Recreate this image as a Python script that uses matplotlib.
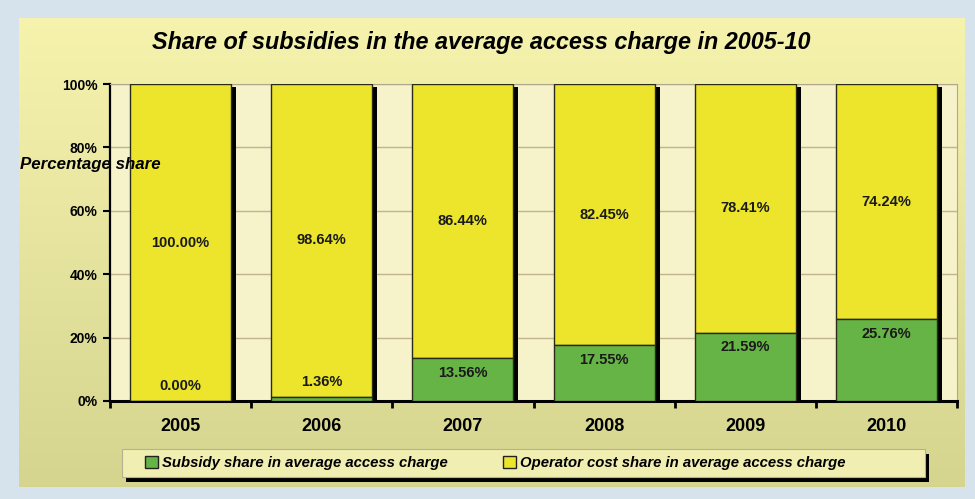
import matplotlib.pyplot as plt
import matplotlib.patheffects as pe
from matplotlib.patches import Rectangle, Patch
import numpy as np

plt.rcParams['font.family'] = ['Liberation Sans', 'DejaVu Sans']

years = ['2005', '2006', '2007', '2008', '2009', '2010']
subsidy = [0.00, 1.36, 13.56, 17.55, 21.59, 25.76]
operator = [100.00, 98.64, 86.44, 82.45, 78.41, 74.24]
yticks = [0, 20, 40, 60, 80, 100]

green = '#66b445'
yellow = '#ece52c'
cream = '#f6f2c9'

W, H = 975, 499
fig = plt.figure(figsize=(W / 100, H / 100), dpi=100)
fig.patch.set_facecolor('#d7e3ec')

# gradient panel behind everything
bg = fig.add_axes([19 / W, 1 - 487 / H, (965 - 19) / W, (487 - 18) / H], zorder=0)
top = np.array([0.965, 0.952, 0.68])
bot = np.array([0.835, 0.835, 0.56])
t = np.linspace(0, 1, 200)[:, None, None]
grad = top * (1 - t) + bot * t
grad = np.repeat(grad, 2, axis=1)
bg.imshow(grad, aspect='auto', extent=[0, 1, 0, 1])
bg.set_axis_off()

ax = fig.add_axes([110 / W, 1 - 401 / H, (957 - 110) / W, (401 - 84) / H], zorder=2)
ax.set_facecolor(cream)

x = np.arange(len(years))
width = 0.716
shadow = [pe.SimplePatchShadow(offset=(3.6, -2.2), shadow_rgbFace='black', alpha=1.0), pe.Normal()]
# yellow drawn underneath so the green tops hide its shadow
b2 = ax.bar(x, operator, width, bottom=subsidy, color=yellow, edgecolor='#2a2a1a',
            linewidth=1.0, zorder=3, path_effects=shadow)
b1 = ax.bar(x, subsidy, width, color=green, edgecolor='#2a2a1a', linewidth=1.0,
            zorder=4, path_effects=shadow)

lab = dict(ha='center', va='center', fontsize=10.5, fontweight='bold', color='#1a1a1a', zorder=5)
for xi, s, o in zip(x, subsidy, operator):
    ys = s - 4.6 if s > 10 else s + 4.6
    ax.text(xi, ys, f'{s:.2f}%', **lab)
    ax.text(xi, s + o / 2, f'{o:.2f}%', **lab)

ax.set_xlim(-0.5, len(years) - 0.5)
ax.set_ylim(0, 100)
ax.set_yticks(yticks)
ax.set_yticklabels([f'{v}%' for v in yticks], fontsize=10, fontweight='bold')
ax.yaxis.grid(True, color='#c2b48e', linewidth=1.0, zorder=1)
ax.set_axisbelow(True)

ax.set_xticks(x)
ax.set_xticklabels(years, fontsize=13, fontweight='bold')
ax.tick_params(axis='x', length=0, pad=12)
ax.set_xticks(np.arange(-0.5, len(years), 1.0), minor=True)
ax.tick_params(axis='x', which='minor', length=5, width=2, color='black', direction='out')
ax.tick_params(axis='y', length=5, width=1.5, color='black', pad=4)

for side in ['top', 'right']:
    ax.spines[side].set_color('#b0a888')
    ax.spines[side].set_linewidth(0.8)
ax.spines['left'].set_linewidth(1.6)
ax.spines['bottom'].set_linewidth(2.2)

fig.text(481 / W, 1 - 42 / H, 'Share of subsidies in the average access charge in 2005-10',
         ha='center', va='center', fontsize=16.8, fontweight='bold', fontstyle='italic')
fig.text(20 / W, 1 - 165 / H, 'Percentage share', ha='left', va='center', fontsize=12.2,
         fontweight='bold', fontstyle='italic', zorder=10)

# legend box with drop shadow
lx0, lx1, ly0, ly1 = 122, 925, 449, 477
fig.patches.append(Rectangle(((lx0 + 4) / W, 1 - (ly1 + 5) / H), (lx1 - lx0) / W, (ly1 - ly0) / H,
                             transform=fig.transFigure, facecolor='black', edgecolor='none', zorder=3))
fig.patches.append(Rectangle((lx0 / W, 1 - ly1 / H), (lx1 - lx0) / W, (ly1 - ly0) / H,
                             transform=fig.transFigure, facecolor='#f1eeb2', edgecolor='#b8b090',
                             linewidth=0.8, zorder=4))
handles = [Patch(facecolor=green, edgecolor='#222222', linewidth=1.0),
           Patch(facecolor=yellow, edgecolor='#222222', linewidth=1.0)]
names = ['Subsidy share in average access charge', 'Operator cost share in average access charge']
leg = fig.legend(handles, names, ncol=2, frameon=False, loc='center left',
                 bbox_to_anchor=(132 / W, 1 - 463 / H), handlelength=0.85, handleheight=0.85,
                 handletextpad=0.3, columnspacing=3.7,
                 prop=dict(family='Liberation Sans', weight='bold', style='italic', size=10.7))
leg.set_zorder(6)

fig.savefig('out.png', dpi=100, facecolor=fig.get_facecolor())
